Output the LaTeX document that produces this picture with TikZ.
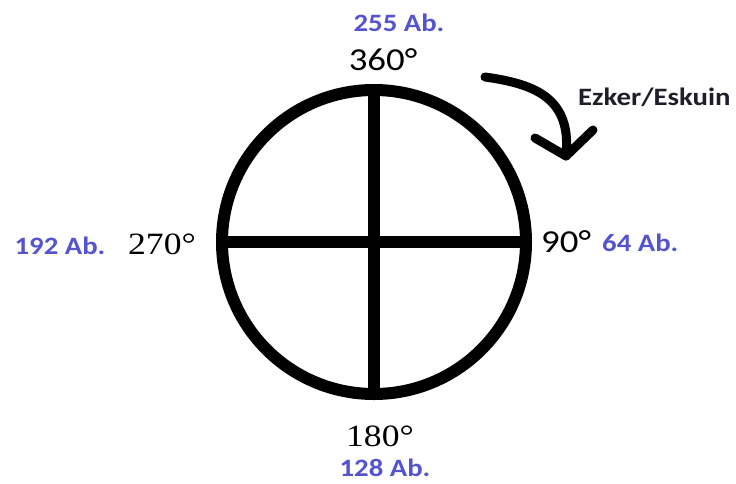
\documentclass[tikz,border=0pt]{standalone}
\usepackage{graphicx}
\usepackage{fontspec}
\setmainfont{Liberation Serif}
\newfontfamily\carlitofont{Carlito}
\newcommand\hstretch[1]{\scalebox{1.15}[1]{#1}}
\definecolor{labblue}{RGB}{84,84,206}
\definecolor{darktxt}{RGB}{30,30,40}
\begin{document}
\begin{tikzpicture}[x=1pt,y=-1pt,
  bluelab/.style={text=labblue,font=\carlitofont\bfseries\fontsize{25}{25}\selectfont,inner sep=0pt},
  deglab/.style={font=\fontsize{31}{31}\selectfont,inner sep=0pt},
  sdeglab/.style={font=\carlitofont\fontsize{32}{32}\selectfont,inner sep=0pt},
  thick line/.style={line width=12pt}]
\useasboundingbox (0,0) rectangle (736,483);
\node[draw,circle,thick line,minimum size=304pt,inner sep=0pt] (c) at (374,242) {};
\draw[thick line] (c.north) -- (c.south);
\draw[thick line] (c.west) -- (c.east);
\node[bluelab] (a255) at (399,23) {\hstretch{255 Ab.}};
\node[sdeglab] (d360) at (383,60) {\hstretch{360°}};
\node[deglab] (d270) at (162,244) {\hstretch{270°}};
\node[bluelab] (a192) at (60,246) {\hstretch{192 Ab.}};
\node[sdeglab,anchor=west] (d90) at (541,242) {\hstretch{90°}};
\node[bluelab,anchor=west] (a64) at (602,243) {\hstretch{64 Ab.}};
\node[deglab] (d180) at (380,436) {\hstretch{180°}};
\node[bluelab] (a128) at (385,468) {\hstretch{128 Ab.}};
\node[text=darktxt,font=\carlitofont\bfseries\fontsize{25}{25}\selectfont,inner sep=0pt,anchor=west] (ez) at (578,97) {\hstretch{Ezker/Eskuin}};
\coordinate (s) at (485,77);
\coordinate (t) at (566,156);
\coordinate (l) at (535,138);
\coordinate (r) at (593,130);
\draw[line width=9pt,line cap=round,line join=round] (s) .. controls (535,84) and (572,98) .. (t);
\draw[line width=9pt,line cap=round,line join=round] (l) -- (t) -- (r);
\end{tikzpicture}
\end{document}
